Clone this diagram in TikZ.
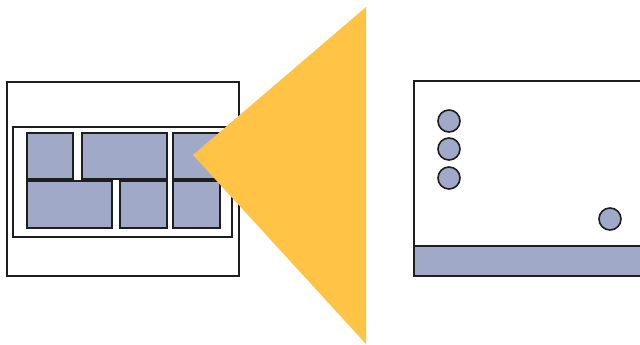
\documentclass[tikz,border=0pt]{standalone}
\definecolor{blockfill}{RGB}{160,170,200}
\definecolor{wedge}{RGB}{255,196,69}
\definecolor{ink}{RGB}{30,30,30}
\begin{document}
\begin{tikzpicture}[x=1pt,y=-1pt,
  frame/.style={draw=ink,line width=1.6pt,fill=white},
  block/.style={draw=ink,line width=2pt,fill=blockfill},
  dot/.style={draw=ink,line width=1.6pt,fill=blockfill,circle,minimum size=22pt,inner sep=0pt}]
\useasboundingbox (0,0) rectangle (640,345);
\clip (0,0) rectangle (640,345);
% left panel
\draw[frame] (7,82) rectangle (239,276);
\draw[frame] (13,127) rectangle (232,237);
\draw[block] (27,133) rectangle (73,179);
\draw[block] (82,133) rectangle (167,179);
\draw[block] (173,133) rectangle (220,179);
\draw[block] (27,181) rectangle (112,228);
\draw[block] (120,181) rectangle (167,228);
\draw[block] (173,181) rectangle (220,228);
% wedge
\fill[wedge] (366,7) -- (193,155) -- (366,344) -- cycle;
% right panel
\draw[frame] (414,81) rectangle (660,276);
\draw[block,line width=1.6pt] (414,246) rectangle (660,276);
\node[dot] (c1) at (449,121) {};
\node[dot] (c2) at (449,149) {};
\node[dot] (c3) at (449,178) {};
\node[dot] (c4) at (610,219) {};
\end{tikzpicture}
\end{document}
